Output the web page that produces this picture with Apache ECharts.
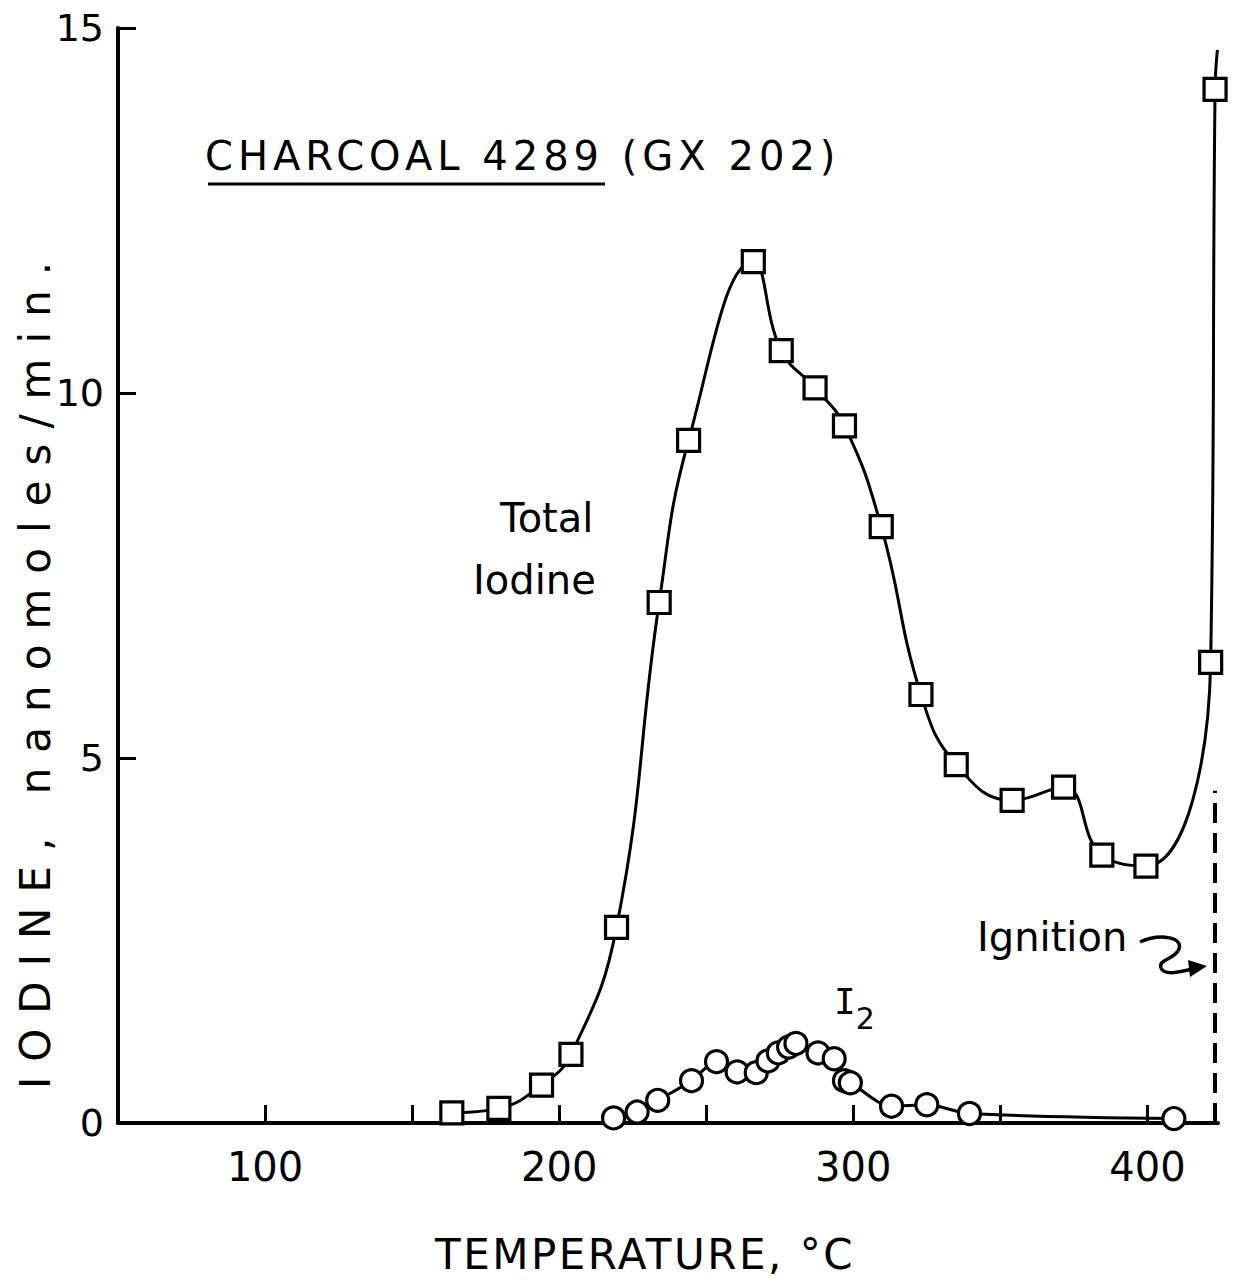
<!DOCTYPE html>
<html><head><meta charset="utf-8">
<script src="https://cdn.jsdelivr.net/npm/echarts@6/dist/echarts.min.js"></script>
<style>html,body{margin:0;padding:0;background:#fff}#c{width:1239px;height:1284px}</style>
</head><body><div id="c"></div>
<script>
// ---- data ----
const totalTemp   = [163.5, 179.5, 194, 204, 219.5, 234, 244, 266, 275.5, 287, 297, 309.5, 323, 335, 354, 371.5, 384.5, 399.5, 421.5, 423];
const totalIodine = [0.14, 0.2, 0.52, 0.94, 2.68, 7.13, 9.35, 11.8, 10.58, 10.07, 9.55, 8.17, 5.87, 4.91, 4.42, 4.6, 3.67, 3.52, 6.31, 14.16];
const curveEndTemp = 423.8;   // curve continues above last square
const curveEndValue = 14.7;

const i2Temp  = [218.5, 226.5, 233.5, 245, 253.5, 260.5, 267, 271, 274.5, 278, 280.5, 288, 293.5, 297, 299, 313, 325, 339.5, 409];
const i2Value = [0.07, 0.15, 0.31, 0.58, 0.84, 0.7, 0.69, 0.85, 0.96, 1.04, 1.09, 0.96, 0.88, 0.58, 0.55, 0.23, 0.25, 0.13, 0.06];

const ignitionTemp = 423;
const ignitionTop = 4.55;

const xTicks = [100, 200, 300, 400];
const yTicks = [0, 5, 10, 15];

const titleText = 'CHARCOAL 4289 (GX 202)';
const xTitle = 'TEMPERATURE, °C';
const yTitle = 'IODINE, nanomoles/min.';

// ---- chart ----
const FONT = 'DejaVu Sans';
const chart = echarts.init(document.getElementById('c'), null, {renderer: 'svg'});

const totalData = totalTemp.map((t, i) => [t, totalIodine[i]]);
totalData.push({value: [curveEndTemp, curveEndValue], symbol: 'none'});
const i2Data = i2Temp.map((t, i) => [t, i2Value[i]]);

const markerStyle = {color: '#fff', borderColor: '#000', borderWidth: 3.2};

const option = {
  animation: false,
  backgroundColor: '#fff',
  grid: {left: 118, right: 21, top: 28, bottom: 161},
  xAxis: {
    type: 'value', min: 50, max: 424, interval: 50,
    axisLine: {show: true, onZero: false, lineStyle: {color: '#000', width: 4}},
    axisTick: {show: true, inside: true, length: 18, lineStyle: {color: '#000', width: 3}},
    axisLabel: {
      fontFamily: FONT, fontSize: 40, color: '#000', margin: 24,
      showMinLabel: false, showMaxLabel: false,
      formatter: v => xTicks.includes(v) ? String(v) : ''
    },
    splitLine: {show: false}
  },
  yAxis: {
    type: 'value', min: 0, max: 15, interval: 5,
    axisLine: {show: true, lineStyle: {color: '#000', width: 4}},
    axisTick: {show: true, inside: true, length: 18, lineStyle: {color: '#000', width: 3}},
    axisLabel: {
      fontFamily: FONT, fontSize: 38, color: '#000', margin: 14,
      formatter: v => yTicks.includes(v) ? String(v) : ''
    },
    splitLine: {show: false}
  },
  series: [
    {
      name: 'Total Iodine', type: 'line', data: totalData,
      smooth: 0.45, symbol: 'rect', symbolSize: 22,
      itemStyle: markerStyle,
      lineStyle: {color: '#000', width: 3},
      z: 3,
      markLine: {
        silent: true, symbol: 'none', label: {show: false},
        lineStyle: {color: '#000', width: 4, type: [20, 10]},
        data: [[{coord: [ignitionTemp, 0]}, {coord: [ignitionTemp, ignitionTop]}]]
      }
    },
    {
      name: 'I2', type: 'line', data: i2Data,
      smooth: 0.3, symbol: 'circle', symbolSize: 22,
      itemStyle: markerStyle,
      lineStyle: {color: '#000', width: 3},
      z: 3
    }
  ],
  graphic: [
    {type: 'text', x: 205, y: 156, style: {text: titleText, font: '40px ' + FONT, fill: '#000', textAlign: 'left', textVerticalAlign: 'middle'}},
    {type: 'line', shape: {x1: 208, y1: 184, x2: 605, y2: 184}, style: {stroke: '#000', lineWidth: 3}},
    {type: 'text', x: 500, y: 518, style: {text: 'Total', font: '40px ' + FONT, fill: '#000', textAlign: 'left', textVerticalAlign: 'middle'}},
    {type: 'text', x: 473, y: 580, style: {text: 'Iodine', font: '40px ' + FONT, fill: '#000', textAlign: 'left', textVerticalAlign: 'middle'}},
    {type: 'text', x: 834, y: 1008, style: {
      text: '{i|I}{s|2}', textAlign: 'left', textVerticalAlign: 'middle',
      rich: {
        i: {fontFamily: 'DejaVu Sans Mono', fontSize: 36, color: '#000', lineHeight: 50, verticalAlign: 'top'},
        s: {fontFamily: FONT, fontSize: 30, color: '#000', lineHeight: 50, verticalAlign: 'bottom'}
      }
    }},
    {type: 'text', x: 977, y: 937, style: {text: 'Ignition', font: '40px ' + FONT, fill: '#000', textAlign: 'left', textVerticalAlign: 'middle'}},
    {type: 'bezierCurve', shape: {x1: 1140, y1: 942, cpx1: 1160, cpy1: 933, cpx2: 1186, cpy2: 937, x2: 1178, y2: 951}, style: {stroke: '#000', lineWidth: 3.5, fill: null}},
    {type: 'bezierCurve', shape: {x1: 1178, y1: 951, cpx1: 1172, cpy1: 960, cpx2: 1158, cpy2: 960, x2: 1161, y2: 968}, style: {stroke: '#000', lineWidth: 3.5, fill: null}},
    {type: 'bezierCurve', shape: {x1: 1161, y1: 968, cpx1: 1164, cpy1: 976, cpx2: 1180, cpy2: 972, x2: 1192, y2: 969}, style: {stroke: '#000', lineWidth: 3.5, fill: null}},
    {type: 'polygon', shape: {points: [[1188, 960], [1207, 966], [1190, 977]]}, style: {fill: '#000'}},
    {type: 'text', x: 645, y: 1254, style: {text: xTitle, font: '42px ' + FONT, fill: '#000', textAlign: 'center', textVerticalAlign: 'middle'}},
    {type: 'text', x: 35, y: 668, rotation: Math.PI / 2, style: {text: yTitle, font: '42px ' + FONT, fill: '#000', textAlign: 'center', textVerticalAlign: 'middle'}}
  ]
};
chart.setOption(option);

// wide lettering like the original stencil text
const spacing = {};
spacing[titleText] = 5;
spacing[xTitle] = 2.5;
spacing[yTitle] = 15;
function applySpacing() {
  document.querySelectorAll('#c svg text').forEach(t => {
    const s = spacing[t.textContent];
    if (s != null) t.style.letterSpacing = s + 'px';
  });
}
chart.on('finished', applySpacing);
applySpacing();
setTimeout(applySpacing, 0);
</script>
</body></html>
